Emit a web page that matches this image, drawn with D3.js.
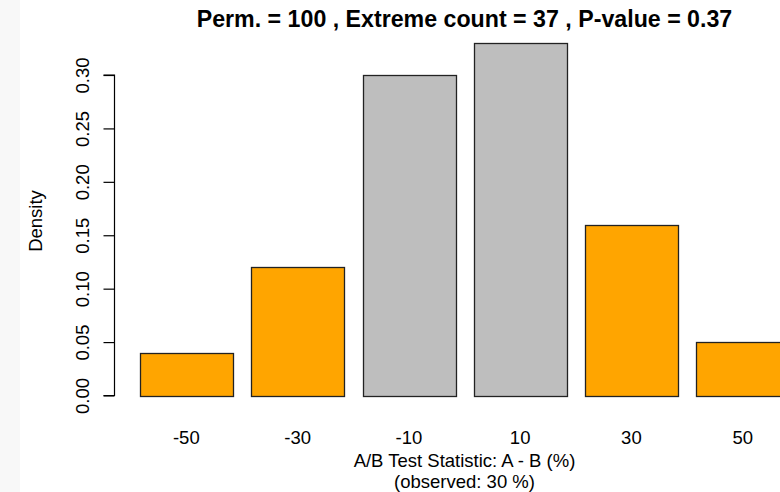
<!DOCTYPE html>
<html>
<head>
<meta charset="utf-8">
<script src="https://cdn.jsdelivr.net/npm/d3@7/dist/d3.min.js"></script>
<style>
html,body{margin:0;padding:0;background:#fff;}
svg{display:block;font-family:"Liberation Sans",Arial,sans-serif;}
</style>
</head>
<body>
<svg id="chart" width="780" height="492"></svg>
<script>
// Data
const categories = ["-50", "-30", "-10", "10", "30", "50"];
const densities = [0.04, 0.12, 0.30, 0.33, 0.16, 0.05];
const extreme = [true, true, false, false, true, true];
const yTicks = [0, 0.05, 0.10, 0.15, 0.20, 0.25, 0.30];
const titleText = "Perm. = 100 , Extreme count = 37 , P-value = 0.37";
const xLabelLines = ["A/B Test Statistic: A - B (%)", "(observed: 30 %)"];
const yLabel = "Density";

const svg = d3.select("#chart");
const W = 780, H = 492;

// light strip on the left edge
svg.append("rect").attr("x", 0).attr("y", 0).attr("width", 20).attr("height", H).attr("fill", "#f8f8f8");

const plotLeft = 114, plotRight = 815;
const x = d3.scaleBand()
  .domain(categories)
  .range([plotLeft, plotRight])
  .paddingInner(0.2 / 1.2)
  .paddingOuter(0.28 / 1.2);

const y = d3.scaleLinear().domain([0, 0.30]).range([395.5, 75]);

// bars
svg.append("g").selectAll("rect")
  .data(categories.map((c, i) => ({c, v: densities[i], ext: extreme[i]})))
  .join("rect")
  .attr("x", d => Math.round(x(d.c)) + 0.5)
  .attr("y", d => Math.round(y(d.v)) + 0.5)
  .attr("width", Math.round(x.bandwidth()))
  .attr("height", d => Math.round(y(0)) - Math.round(y(d.v)))
  .attr("fill", d => d.ext ? "#FFA500" : "#BEBEBE")
  .attr("stroke", "#222")
  .attr("stroke-width", 1.3);

// y axis
const yAxis = svg.append("g")
  .attr("transform", `translate(${plotLeft + 0.5},0)`)
  .call(d3.axisLeft(y).tickValues(yTicks).tickSize(11).tickFormat(d3.format(".2f")));
yAxis.select(".domain").attr("stroke", "#000").attr("stroke-width", 1.2)
  .attr("d", `M-11,${y(0.30)}H0V${y(0)}H-11`);
yAxis.selectAll(".tick line").attr("stroke", "#000").attr("stroke-width", 1.2);
yAxis.selectAll(".tick text")
  .attr("x", 0).attr("y", -26).attr("dy", null)
  .attr("transform", "rotate(-90)")
  .attr("text-anchor", "middle")
  .attr("fill", "#000")
  .style("font-size", "18.5px")
  .style("font-family", "Liberation Sans, Arial, sans-serif");

// x axis labels (no line, no ticks)
const xAxis = svg.append("g")
  .attr("transform", `translate(0,0)`)
  .call(d3.axisBottom(x).tickSize(0));
xAxis.select(".domain").remove();
xAxis.selectAll(".tick text")
  .attr("y", 444).attr("dy", null)
  .attr("fill", "#000")
  .style("font-size", "18.5px")
  .style("font-family", "Liberation Sans, Arial, sans-serif");

// x label lines
const cx = (plotLeft + plotRight) / 2;
svg.append("g").selectAll("text")
  .data(xLabelLines)
  .join("text")
  .attr("x", cx)
  .attr("y", (d, i) => 467 + i * 21)
  .attr("text-anchor", "middle")
  .style("font-size", "18.5px")
  .text(d => d);

// y label
svg.append("text")
  .attr("transform", `translate(42,221) rotate(-90)`)
  .attr("text-anchor", "middle")
  .style("font-size", "18.5px")
  .text(yLabel);

// title
svg.append("text")
  .attr("x", cx).attr("y", 27)
  .attr("text-anchor", "middle")
  .style("font-size", "23.2px")
  .style("font-weight", "bold")
  .text(titleText);
</script>
</body>
</html>
